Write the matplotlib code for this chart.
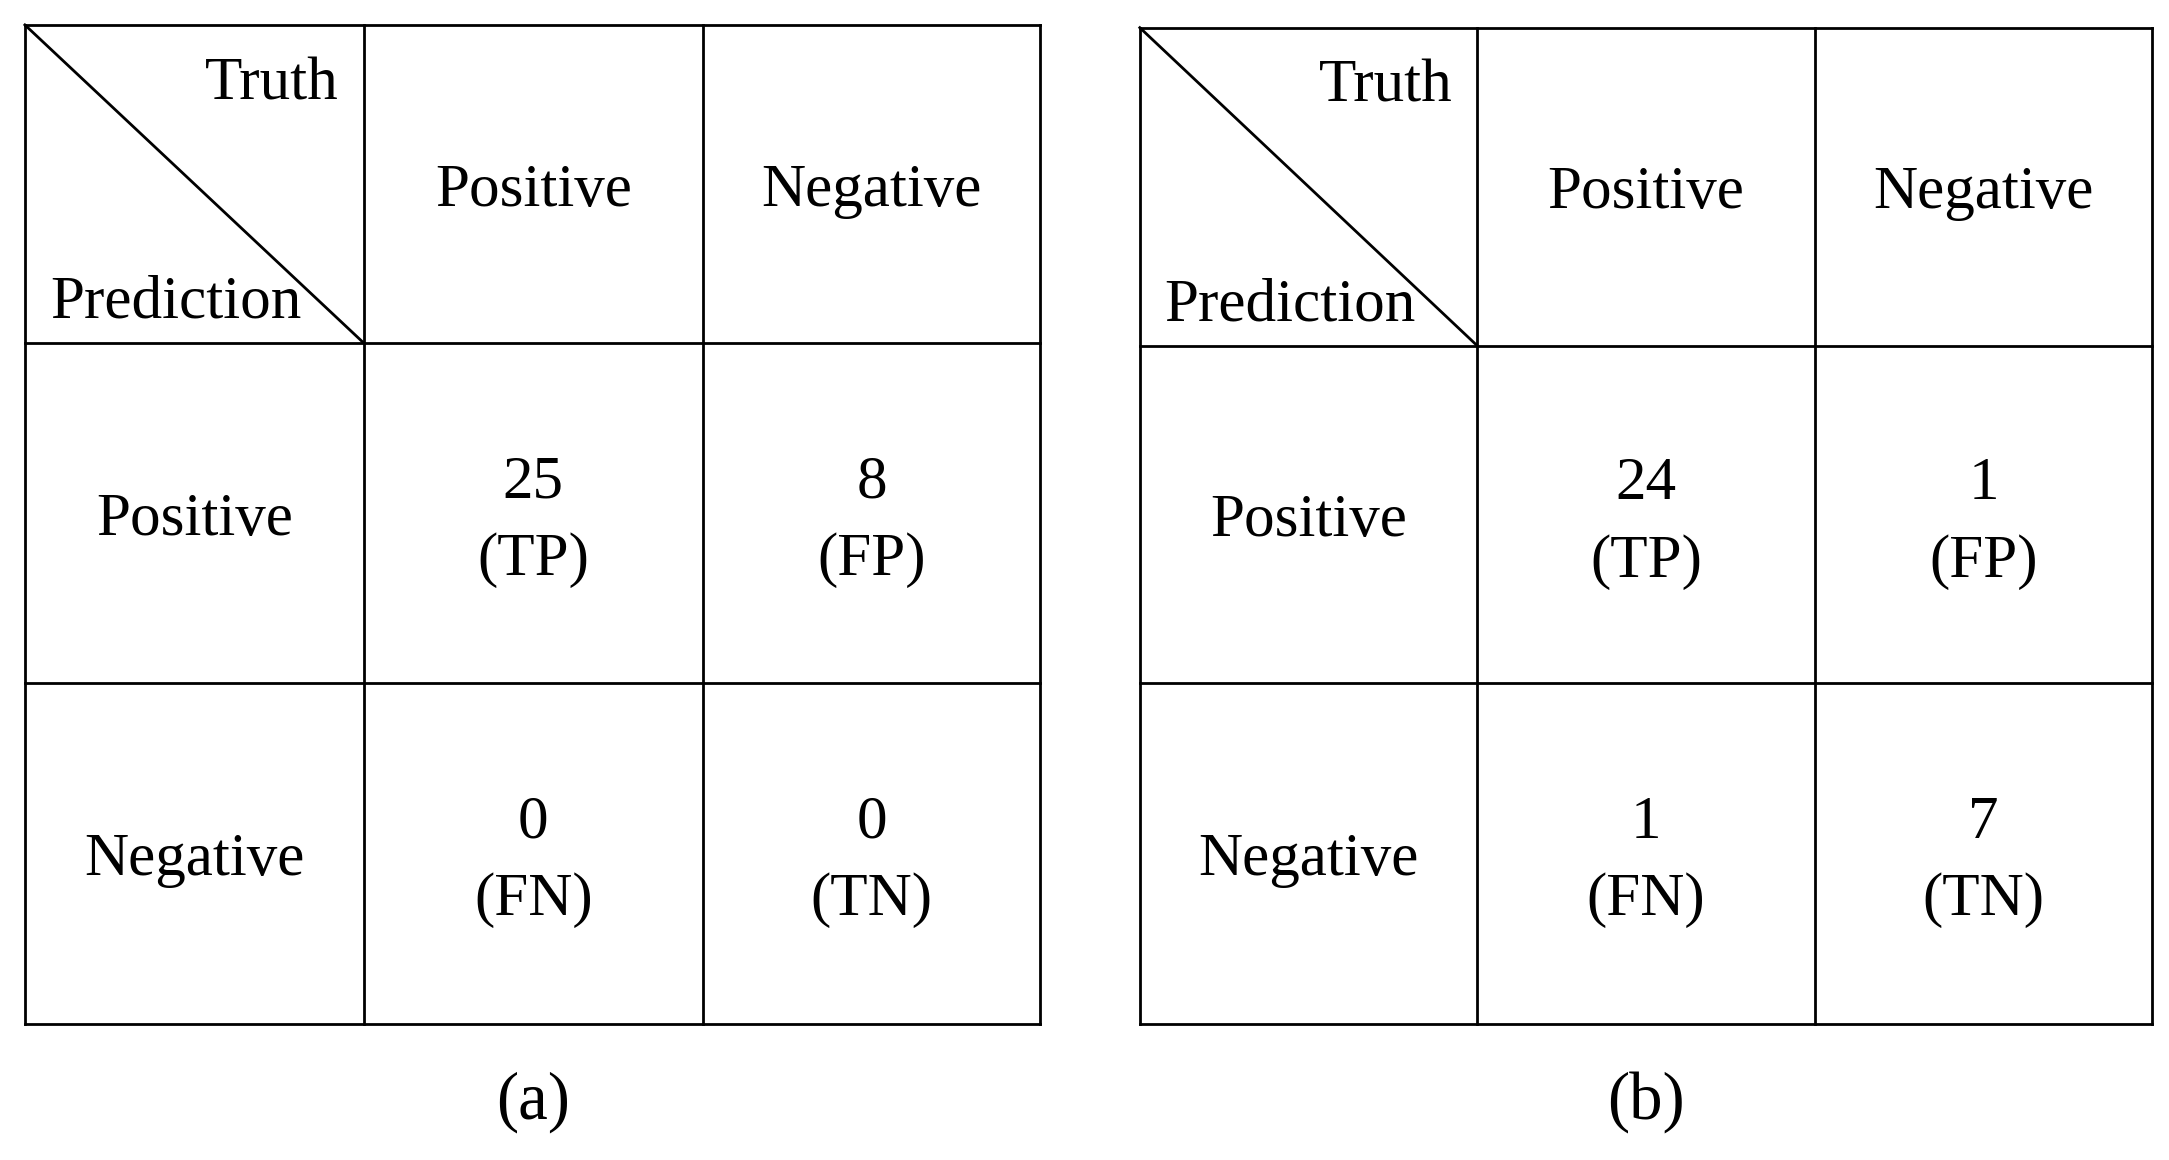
import matplotlib
matplotlib.use("Agg")
import matplotlib.pyplot as plt

col_labels = ["Positive", "Negative"]
row_labels = ["Positive", "Negative"]
codes = [["TP", "FP"], ["FN", "TN"]]
values_a = [[25, 8], [0, 0]]
values_b = [[24, 1], [1, 7]]
panel_labels = ["(a)", "(b)"]

W, H = 1568, 1568 * 1160 / 2169
fig = plt.figure(figsize=(21.69, 11.60), dpi=100)
ax = fig.add_axes([0, 0, 1, 1])
ax.set_xlim(0, W); ax.set_ylim(H, 0); ax.axis("off")
fam = "Liberation Serif"
fs = 44
d = 5

def table(x0, x1, y0, y1, xs, ys, vals, lab):
    lw = 2.0
    for x in [x0] + xs + [x1]:
        ax.plot([x, x], [y0, y1], color="black", lw=lw)
    for y in [y0] + ys + [y1]:
        ax.plot([x0, x1], [y, y], color="black", lw=lw)
    ax.plot([x0, xs[0]], [y0, ys[0]], color="black", lw=lw)
    ax.text(xs[0] - 18, y0 + 38 + d, "Truth", ha="right", va="center", fontsize=fs, family=fam)
    ax.text(x0 + 18, ys[0] - 34 + d, "Prediction", ha="left", va="center", fontsize=fs, family=fam)
    cx = [(xs[0] + xs[1]) / 2, (xs[1] + x1) / 2]
    cy = [(ys[0] + ys[1]) / 2, (ys[1] + y1) / 2]
    for j, c in enumerate(col_labels):
        ax.text(cx[j], (y0 + ys[0]) / 2 + d, c, ha="center", va="center", fontsize=fs, family=fam)
    for i, r in enumerate(row_labels):
        ax.text((x0 + xs[0]) / 2, cy[i] + d, r, ha="center", va="center", fontsize=fs, family=fam)
        for j in range(2):
            ax.text(cx[j], cy[i] - 27 + d, str(vals[i][j]), ha="center", va="center", fontsize=fs, family=fam)
            ax.text(cx[j], cy[i] + 29 + d, f"({codes[i][j]})", ha="center", va="center", fontsize=fs, family=fam)
    ax.text(cx[0], 797, lab, ha="center", va="center", fontsize=fs + 4, family=fam)

table(18, 752, 18, 740, [263, 508], [248, 494], values_a, panel_labels[0])
table(824, 1556, 20, 740, [1068, 1312], [250, 494], values_b, panel_labels[1])
fig.savefig("out.png", dpi=100)
